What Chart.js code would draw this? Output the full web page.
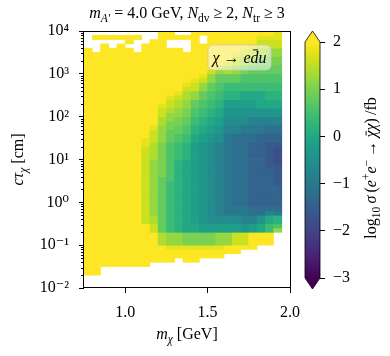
<!DOCTYPE html>
<html>
<head>
<meta charset="utf-8">
<script src="https://cdn.jsdelivr.net/npm/chart.js@4.4.1/dist/chart.umd.min.js"></script>
<style>
  html, body { margin: 0; padding: 0; background: #fff; }
  #wrap { position: relative; width: 390px; height: 356px; }
  #main { position: absolute; left: 0; top: 0; }
  #cbar { position: absolute; left: 290px; top: 0; }
</style>
</head>
<body>
<div id="wrap">
  <canvas id="main" width="310" height="356"></canvas>
  <canvas id="cbar" width="100" height="356"></canvas>
</div>
<script>
// m_chi bin centres [GeV]
const massBins = [0.775, 0.825, 0.875, 0.925, 0.975, 1.025, 1.075, 1.125, 1.175, 1.225, 1.275, 1.325,
  1.375, 1.425, 1.475, 1.525, 1.575, 1.625, 1.675, 1.725, 1.775, 1.825, 1.875, 1.925];
// log10(c tau / cm) bin edges
const ctauEdges = [-2.0, -1.9, -1.8, -1.7, -1.6, -1.5, -1.4, -1.3, -1.2, -1.1,
  -1.0, -0.9, -0.8, -0.7, -0.6, -0.5, -0.4, -0.3, -0.2, -0.1,
  0.0, 0.1, 0.2, 0.3, 0.4, 0.5, 0.6, 0.7, 0.8, 0.9,
  1.0, 1.1, 1.2, 1.3, 1.4, 1.5, 1.6, 1.7, 1.8, 1.9,
  2.0, 2.1, 2.2, 2.3, 2.4, 2.5, 2.6, 2.7, 2.8, 2.9,
  3.0, 3.1, 3.2, 3.3, 3.4, 3.5, 3.6, 3.7, 3.8, 3.9, 4.0];

const massTicks = [1.0, 1.5, 2.0];
const ctauTicks = [1e-2, 1e-1, 1, 10, 100, 1000, 1e4];
const ctauTickLabels = ["10⁻²", "10⁻¹", "10⁰", "10¹", "10²", "10³", "10⁴"];
const sigmaTicks = [-3, -2, -1, 0, 1, 2];
const sigmaTickLabels = ["−3", "−2", "−1", "0", "1", "2"];

// log10 sigma / fb, one letter per cell ('.' = empty, 'Y' = above 2)
const levelKey = "abcdefghijklmnopqrstu";
const levelValues = [-2.0, -1.8, -1.6, -1.4, -1.2, -1.0, -0.8, -0.6, -0.4, -0.2, 0.0,
  0.2, 0.4, 0.6, 0.8, 1.0, 1.2, 1.4, 1.6, 1.8, 2.0];
const saturated = 2.5;

// one string per mass column, from cτ = 1e-2 (left) up to 1e4 (right), 10 rows per decade
const sigmaColumns = [
  "...YYYYYYY YYYYYYYYYY YYYYYYYYYY YYYYYYYYYY YYYYYYYYYY YYYYYY....",
  "...YYYYYYY YYYYYYYYYY YYYYYYYYYY YYYYYYYYYY YYYYYYYYYY YYYYY...Y.",
  ".....YYYYY YYYYYYYYYY YYYYYYYYYY YYYYYYYYYY YYYYYYYYYY YYYYYYY.Y.",
  ".....YYYYY YYYYYYYYYY YYYYYYYYYY YYYYYYYYYY YYYYYYYYYY YYYYYY..Y.",
  ".....YYYYY YYYYYYYYYY YYYYYYYYYY YYYYYYYYYY YYYYYYYYYY YYYYYYY.Y.",
  ".....YYYYY YYYYYYYYYY YYYYYYYYYY YYYYYYYYYY YYYYYYYYYY YYYYYY.YY.",
  ".....YYYYY YYYYYYYYYY YYYYYYYYYY YYYYYYYYYY YYYYYYYYYY YYYYY...Y.",
  ".....YYYYY YYYYYsssss ssssssssss sssttYYYYY YYYYYYYYYY YYYYYYY...",
  "......YYYY YYYssrrqqq qqqqqqqqqq rrrrssstYY YYYYYYYYYY YYYYYYYY..",
  "......YYYY rrrooooooo oooooopppp ppppqqqqrr sstYYYYYYY YYYYYYYYYY",
  "......YYYt qqqmmmmmmm mmmmmnnnnn nnnnoooppq qrsstYYYYY YYYYYY..YY",
  ".......YYt qqqlllllll llllllllll mmmmnnoopp qqrrstYYYY YYYYYY..Y.",
  "......YYYt pppkkkkkkk kkkkkkkkkk llllmmnnoo ppqqrrstYY YYYYY...Y.",
  "......YYYt pppkkjjjjj jjjjjjjjjj jjjjkkllmm nnooqqsstY YYYYYYYYYY",
  ".......YYt pppjjiiiii iiiiiiiiii iiiijjkkll mmnnooqqst YYYYYYY..Y",
  ".......YYt pppjjhhhhh hhhhhhhhhh hhhhiijjkk llmmnnooqq sYYYYYYYYY",
  ".......YYt qqqjjhhggg gggggggggg gggghhiijj kkllmmnnoo qsYYYYYYYY",
  "........YY qqqjjhhfff ffffffffff ffffffgghh iijjllmmoo rrtYYYYYYY",
  "........YY sssjjhhffe eeeeeeeeee eeeeeegghh iijjllmmoo qqsstYYYYY",
  ".........Y sssiiggffe eeeeeeeeee eeeeeeffhh iijjkkmmnn pprrstYYYY",
  ".........Y YYYjjggeed dddddddddd ddddeeffgg iijjkkmmnn ooqqsstYYY",
  ".......... YYYkkiieed dddddddddd ddddddffgg iikkkkmmnn oopprrsstY",
  ".......... YYYmmkkged ddddddddcc ccccddeegg iikkllmmnn ooppqqsstu",
  ".......... ...qnllfed ddddcccccb bbbcddeegg iikkllmmnn ooppqqsstt"
];

const sigmaMin = -3;
const sigmaMax = 2;

const viridis = ["#440154", "#471365", "#482475", "#463480", "#414487", "#3b528b", "#355f8d",
  "#2f6c8e", "#2a788e", "#25848e", "#21918c", "#1e9c89", "#22a884", "#2fb47c", "#44bf70",
  "#5ec962", "#7ad151", "#9bd93c", "#bddf26", "#dfe318", "#fde725"];

const FONT = '"Liberation Serif", "DejaVu Serif", serif';

function hexRgb(h) {
  return [parseInt(h.slice(1, 3), 16), parseInt(h.slice(3, 5), 16), parseInt(h.slice(5, 7), 16)];
}

function cmap(v) {
  let t = (v - sigmaMin) / (sigmaMax - sigmaMin);
  t = Math.max(0, Math.min(1, t)) * (viridis.length - 1);
  const i = Math.min(Math.floor(t), viridis.length - 2);
  const f = t - i;
  const a = hexRgb(viridis[i]), b = hexRgb(viridis[i + 1]);
  const c = a.map((x, k) => Math.round(x + (b[k] - x) * f));
  return `rgb(${c[0]},${c[1]},${c[2]})`;
}

const cells = [];
sigmaColumns.forEach((col, c) => {
  const codes = col.replace(/ /g, "");
  if (codes.length !== ctauEdges.length - 1) throw new Error("column " + c + " has " + codes.length);
  for (let r = 0; r < codes.length; r++) {
    const ch = codes[r];
    if (ch === ".") continue;
    const v = ch === "Y" ? saturated : levelValues[levelKey.indexOf(ch)];
    cells.push({ x: massBins[c], y: [Math.pow(10, ctauEdges[r]), Math.pow(10, ctauEdges[r + 1])], v: v });
  }
});

const minorCtau = [];
ctauTicks.slice(0, -1).forEach(d => {
  [2, 3, 4, 5, 6, 7, 8, 9].forEach(m => minorCtau.push(m * d));
});

// parts: [text, italic, size, dy, overbar]
function drawRich(ctx, parts, x, y) {
  let w = 0;
  parts.forEach(p => {
    ctx.font = (p[1] ? "italic " : "") + p[2] + "px " + FONT;
    w += ctx.measureText(p[0]).width;
  });
  let cx = x - w / 2;
  ctx.textAlign = "left";
  ctx.textBaseline = "alphabetic";
  ctx.fillStyle = "#000";
  ctx.strokeStyle = "#000";
  parts.forEach(p => {
    ctx.font = (p[1] ? "italic " : "") + p[2] + "px " + FONT;
    const pw = ctx.measureText(p[0]).width;
    ctx.fillText(p[0], cx, y + (p[3] || 0));
    if (p[4]) {
      const top = y + (p[3] || 0) - p[2] * p[4];
      ctx.lineWidth = 0.9;
      ctx.beginPath();
      ctx.moveTo(cx + pw * 0.3, top);
      ctx.lineTo(cx + pw * 0.95, top);
      ctx.stroke();
    }
    cx += pw;
  });
}

const S = 16, SS = 11.5;
const thin = "\u2009";

const mainDecor = {
  id: "mainDecor",
  afterDatasetsDraw(chart) {
    const ctx = chart.ctx;
    const a = chart.chartArea;
    // decay label box
    const bx = a.right - 82, by = a.top + 14, bw = 63, bh = 25;
    ctx.save();
    ctx.beginPath();
    ctx.roundRect(bx, by, bw, bh, 5);
    ctx.fillStyle = "rgba(255,255,255,0.5)";
    ctx.fill();
    ctx.strokeStyle = "rgba(200,200,200,0.8)";
    ctx.lineWidth = 1;
    ctx.stroke();
    drawRich(ctx, [["χ", true, S], [" → ", false, S], ["e", true, S], ["d", true, S, 0, 0.82], ["u", true, S]], bx + bw / 2, by + 18);
    ctx.restore();
  },
  afterDraw(chart) {
    const ctx = chart.ctx;
    const a = chart.chartArea;
    const ys = chart.scales.y;
    ctx.save();
    ctx.strokeStyle = "#000";
    ctx.lineWidth = 1;
    ctx.strokeRect(Math.round(a.left) - 0.5, Math.round(a.top) + 0.5, Math.round(a.right - a.left) + 1, Math.round(a.bottom - a.top) - 1);
    ctx.beginPath();
    minorCtau.forEach(v => {
      const py = Math.round(ys.getPixelForValue(v)) + 0.5;
      ctx.moveTo(a.left - 3, py);
      ctx.lineTo(a.left, py);
    });
    ctx.stroke();
    const cx = (a.left + a.right) / 2;
    drawRich(ctx, [["m", true, S], ["A′", true, SS, 4], [" = 4.0 GeV, ", false, S], ["N", true, S], ["dv", false, SS, 4],
      [" ≥ 2, ", false, S], ["N", true, S], ["tr", false, SS, 4], [" ≥ 3", false, S]], cx, 18);
    drawRich(ctx, [["m", true, S], ["χ", true, SS, 4], [" [GeV]", false, S]], cx, 339);
    ctx.translate(23, (a.top + a.bottom) / 2);
    ctx.rotate(-Math.PI / 2);
    drawRich(ctx, [["cτ", true, S], ["χ", true, SS, 4], [" [cm]", false, S]], 0, 0);
    ctx.restore();
  }
};

new Chart(document.getElementById("main"), {
  type: "bar",
  data: {
    datasets: [{
      data: cells,
      backgroundColor: ctx => cmap(ctx.raw.v),
      borderWidth: 0,
      barPercentage: 1,
      categoryPercentage: 1
    }]
  },
  options: {
    responsive: false,
    animation: false,
    events: [],
    layout: { padding: { left: 34, right: 19, top: 31, bottom: 33 } },
    plugins: { legend: { display: false }, tooltip: { enabled: false } },
    scales: {
      x: {
        type: "linear",
        min: 0.75,
        max: 2.0,
        offset: false,
        afterFit: s => { s.height = 35; },
        afterBuildTicks: s => { s.ticks = massTicks.map(v => ({ value: v })); },
        ticks: { color: "#000", font: { family: FONT, size: S }, padding: 10, callback: v => v.toFixed(1) },
        grid: { offset: false, drawOnChartArea: false, tickLength: 5, color: "#000" },
        border: { display: false }
      },
      y: {
        type: "logarithmic",
        min: 1e-2,
        max: 1e4,
        afterFit: s => { s.width = 50; },
        afterBuildTicks: s => { s.ticks = ctauTicks.map(v => ({ value: v, major: true })); },
        ticks: {
          color: "#000",
          font: { family: FONT, size: S },
          padding: 10,
          autoSkip: false,
          callback: (v, i) => ctauTickLabels[i]
        },
        grid: { drawOnChartArea: false, tickLength: 5, color: "#000" },
        border: { display: false }
      }
    }
  },
  plugins: [mainDecor]
});

const cbarDecor = {
  id: "cbarDecor",
  afterDatasetsDraw(chart) {
    const ctx = chart.ctx;
    const a = chart.chartArea;
    const mid = (a.left + a.right) / 2;
    ctx.save();
    ctx.fillStyle = viridis[viridis.length - 1];
    ctx.beginPath();
    ctx.moveTo(a.left, a.top);
    ctx.lineTo(mid, a.top - 11);
    ctx.lineTo(a.right, a.top);
    ctx.closePath();
    ctx.fill();
    ctx.fillStyle = viridis[0];
    ctx.beginPath();
    ctx.moveTo(a.left, a.bottom);
    ctx.lineTo(mid, a.bottom + 11);
    ctx.lineTo(a.right, a.bottom);
    ctx.closePath();
    ctx.fill();
    ctx.strokeStyle = "#000";
    ctx.lineWidth = 0.8;
    ctx.beginPath();
    ctx.moveTo(mid, a.bottom + 11);
    ctx.lineTo(a.left, a.bottom);
    ctx.lineTo(a.left, a.top);
    ctx.lineTo(mid, a.top - 11);
    ctx.lineTo(a.right, a.top);
    ctx.lineTo(a.right, a.bottom);
    ctx.closePath();
    ctx.stroke();
    ctx.translate(86, 168);
    ctx.rotate(-Math.PI / 2);
    drawRich(ctx, [["log", false, S], ["10", false, SS, 4], [thin + "σ", true, S], [thin + "(", false, S], ["e", true, S], ["+", false, SS, -6],
      ["e", true, S], ["−", false, SS, -6], [thin + "→" + thin, false, S], ["χ", true, S, 0, 0.62], ["χ", true, S], [")" + thin + "/", false, S], ["fb", false, S]], 0, 0);
    ctx.restore();
  }
};

new Chart(document.getElementById("cbar"), {
  type: "bar",
  data: {
    labels: [""],
    datasets: [{
      data: [[sigmaMin, sigmaMax]],
      backgroundColor: ctx => {
        const a = ctx.chart.chartArea;
        if (!a) return viridis[0];
        const g = ctx.chart.ctx.createLinearGradient(0, a.bottom, 0, a.top);
        viridis.forEach((c, i) => g.addColorStop(i / (viridis.length - 1), c));
        return g;
      },
      borderWidth: 0,
      barPercentage: 1,
      categoryPercentage: 1
    }]
  },
  options: {
    responsive: false,
    animation: false,
    events: [],
    layout: { padding: { left: 15, right: 40, top: 42, bottom: 78 } },
    plugins: { legend: { display: false }, tooltip: { enabled: false } },
    scales: {
      x: { display: false },
      y: {
        position: "right",
        min: sigmaMin,
        max: sigmaMax,
        afterFit: s => { s.width = 30; },
        afterBuildTicks: s => { s.ticks = sigmaTicks.map(v => ({ value: v })); },
        ticks: {
          color: "#000",
          font: { family: FONT, size: S },
          padding: 8,
          callback: v => sigmaTickLabels[sigmaTicks.indexOf(v)]
        },
        grid: { drawOnChartArea: false, tickLength: 5, color: "#000" },
        border: { display: false }
      }
    }
  },
  plugins: [cbarDecor]
});
</script>
</body>
</html>
